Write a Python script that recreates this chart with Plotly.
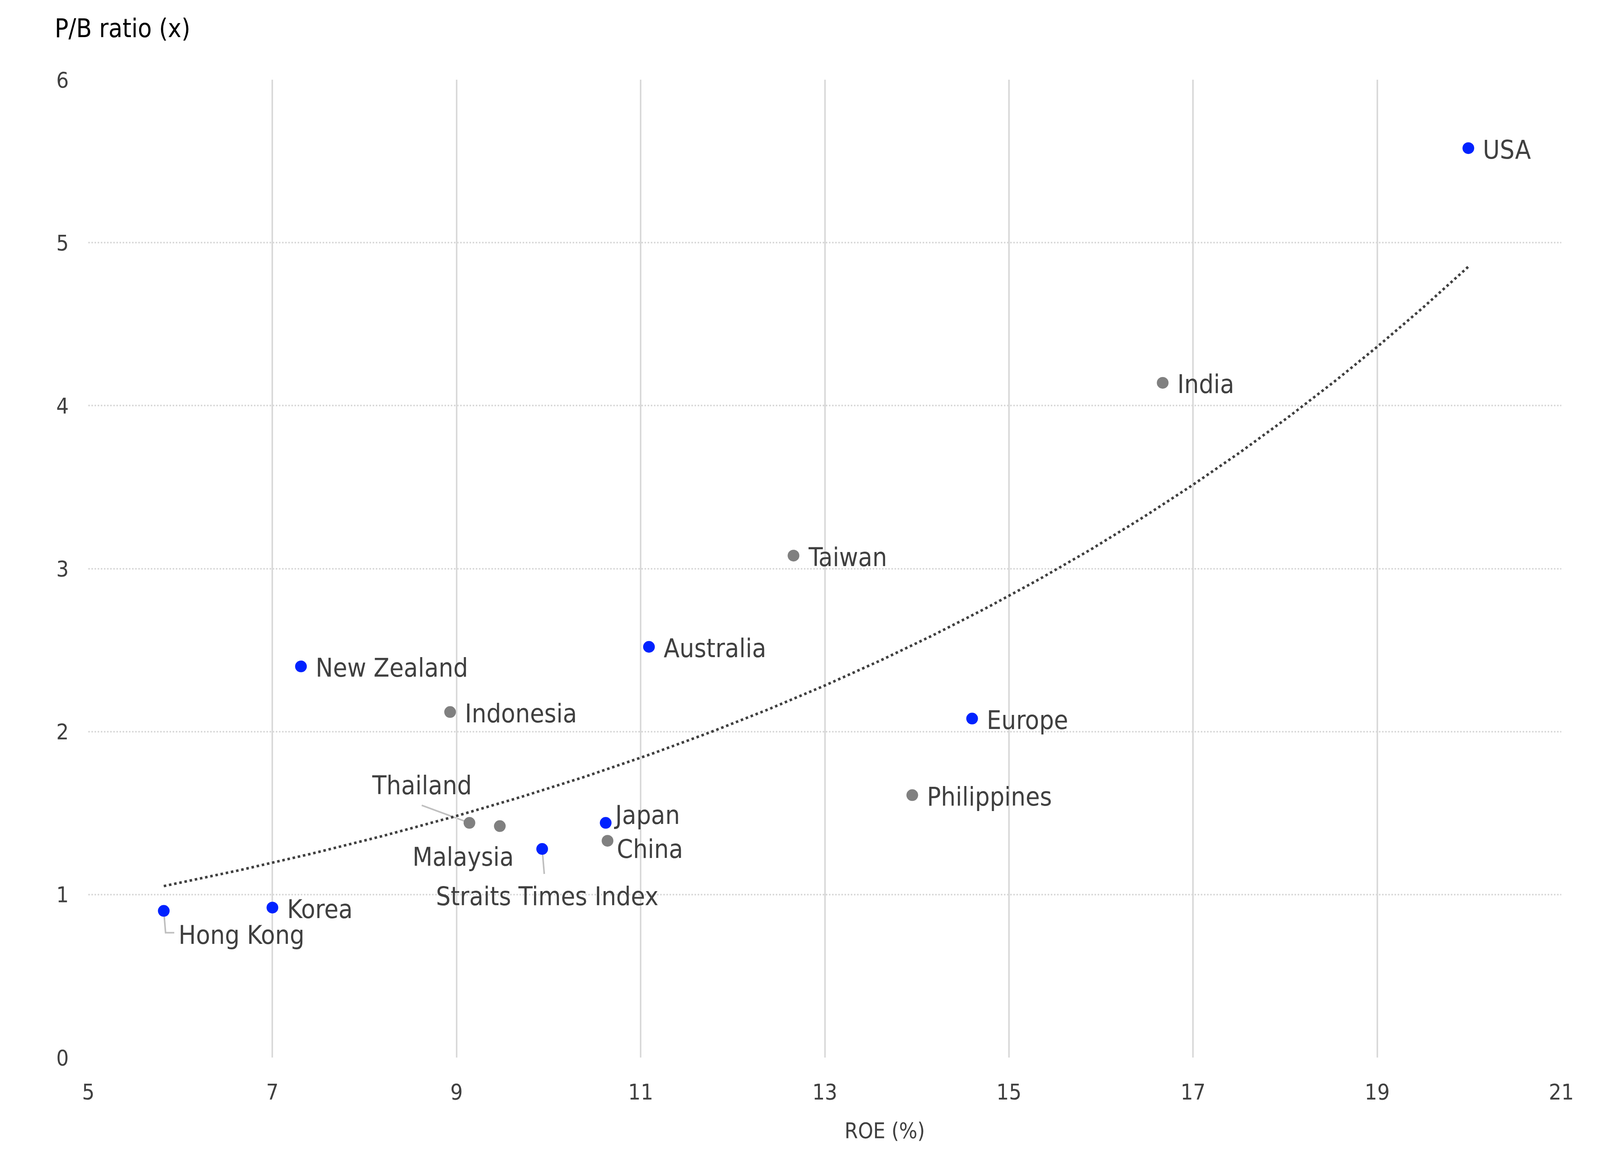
import numpy as np
import plotly.graph_objects as go

# ---- data ----
names = ["Hong Kong", "Korea", "New Zealand", "Indonesia", "Thailand", "Malaysia",
         "Straits Times Index", "Japan", "China", "Australia", "Taiwan",
         "Philippines", "Europe", "India", "USA"]
roe = [5.82, 7.00, 7.31, 8.93, 9.14, 9.47, 9.93, 10.62, 10.64, 11.09, 12.66,
       13.95, 14.60, 16.67, 19.99]
pb = [0.90, 0.92, 2.40, 2.12, 1.44, 1.42, 1.28, 1.44, 1.33, 2.52, 3.08,
      1.61, 2.08, 4.14, 5.58]
group = ["dev", "dev", "dev", "em", "em", "em", "dev", "dev", "em", "dev", "em",
         "em", "dev", "em", "dev"]
x_ticks = [5, 7, 9, 11, 13, 15, 17, 19, 21]
y_ticks = [0, 1, 2, 3, 4, 5, 6]

# ---- geometry: designed on the 5333x3000 reference, drawn in the real viewport ----
REF_W, REF_H = 5333, 3000
W, H = 4096, 3000            # CSS size of the browser viewport
SX = W / REF_W
def px(v):                   # horizontal reference pixels -> CSS px
    return v * SX

FONT = "Noto Sans Condensed, DejaVu Sans Condensed, sans-serif"
TXT = "#404040"
GRID = "#d9d9d9"
COLORS = {"dev": "#0022FF", "em": "#808080"}
LABEL_SIZE = 66

# label offsets in reference pixels: (xshift, yshift[up +], xanchor)
offsets = {
    "Japan": (24, 20, "left"),
    "China": (28, -21, "left"),
    "Hong Kong": (46, -62, "left"),
    "Thailand": (-159, 96, "center"),
    "Malaysia": (-123, -79, "center"),
    "Straits Times Index": (17, -121, "center"),
}
default_off = (46, -4, "left")

# leader lines (reference-pixel paths relative to the point, y up positive)
leaders = {
    "Thailand": [(0, 0), (-159, 45)],
    "Straits Times Index": [(0, 0), (7, -64)],
    "Hong Kong": [(0, 0), (6, -56), (35, -56)],
}

def path_of(pts):
    return " ".join(("M" if i == 0 else "L") + f" {px(a):.2f} {b:.2f}"
                    for i, (a, b) in enumerate(pts))

fig = go.Figure()

# exponential trendline fitted to the data
coef = np.polyfit(np.array(roe), np.log(np.array(pb)), 1)
xt = np.linspace(min(roe), max(roe), 300)
yt = np.exp(np.polyval(coef, xt))
fig.add_trace(go.Scatter(x=xt, y=yt, mode="lines",
                         line=dict(color=TXT, width=6.5, dash="6.5px,7px"),
                         hoverinfo="skip", showlegend=False))

fig.add_trace(go.Scatter(x=roe, y=pb, mode="markers",
                         marker=dict(size=30, color=[COLORS[g] for g in group],
                                     line=dict(width=0)),
                         text=names, showlegend=False))

shapes = []
for n, xv, yv in zip(names, roe, pb):
    if n in leaders:
        shapes.append(dict(type="path", xref="x", yref="y",
                           xsizemode="pixel", ysizemode="pixel",
                           xanchor=xv, yanchor=yv, path=path_of(leaders[n]),
                           line=dict(color="#bfbfbf", width=4), layer="below"))

annotations = []
for n, xv, yv in zip(names, roe, pb):
    dx, dy, xa = offsets.get(n, default_off)
    annotations.append(dict(x=xv, y=yv, xref="x", yref="y", text=n,
                            showarrow=False, xanchor=xa, yanchor="middle",
                            xshift=px(dx), yshift=dy,
                            font=dict(family=FONT, size=LABEL_SIZE, color=TXT)))

L, R, T, B = px(294), px(REF_W - 5204), 204, REF_H - 2707
pw, ph = W - L - R, H - T - B
# y-axis caption (top left) and x-axis caption (below the axis, right of centre)
annotations.append(dict(x=(px(179) - L) / pw, y=(H - B - 72) / ph,
                        xref="paper", yref="paper", text="P/B ratio (x)",
                        showarrow=False, xanchor="left", yanchor="middle",
                        font=dict(family=FONT, size=65, color="#000000")))
annotations.append(dict(x=(px(2949) - L) / pw, y=(H - B - 2894) / ph,
                        xref="paper", yref="paper", text="ROE (%)",
                        showarrow=False, xanchor="center", yanchor="middle",
                        font=dict(family=FONT, size=55, color=TXT)))

fig.update_layout(
    width=W, height=H, autosize=False,
    margin=dict(l=L, r=R, t=T, b=B, pad=0),
    paper_bgcolor="white", plot_bgcolor="white",
    font=dict(family=FONT, color=TXT),
    shapes=shapes, annotations=annotations,
    xaxis=dict(range=[5, 21], tickvals=x_ticks, ticktext=[str(v) for v in x_ticks],
               showgrid=True, gridcolor=GRID, gridwidth=4, zeroline=False,
               showline=False, ticks="", ticklabelstandoff=50,
               tickfont=dict(family=FONT, size=56, color=TXT)),
    yaxis=dict(range=[0, 6], tickvals=y_ticks, ticktext=[str(v) for v in y_ticks],
               showgrid=True, gridcolor=GRID, gridwidth=4, griddash="dot",
               zeroline=False, showline=False, ticks="",
               ticklabelstandoff=round(px(64)),
               tickfont=dict(family=FONT, size=56, color=TXT)),
)

fig.write_html("out.html", config={"displayModeBar": False},
               post_script="document.body.style.margin='0';")
